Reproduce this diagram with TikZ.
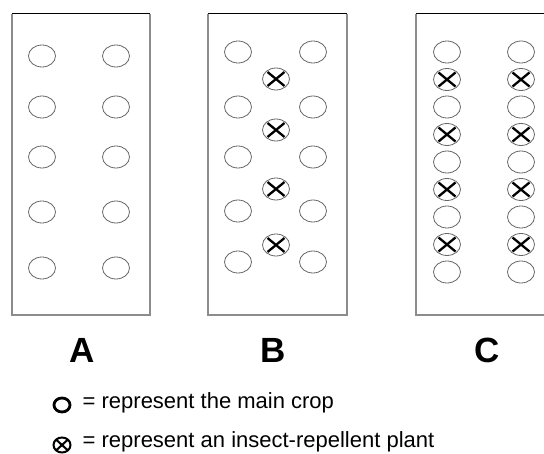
\documentclass[tikz,border=0pt]{standalone}
\usepackage{fontspec}
\setmainfont{Liberation Sans}
\usetikzlibrary{shapes.geometric}

\tikzset{
  crop/.style={ellipse, draw=black!60, line width=0.8pt, minimum width=27pt,
    minimum height=22pt, inner sep=0pt},
  repel/.style={crop, path picture={
    \draw[draw=black, line width=2.3pt]
      ([shift={(-8.5pt,-7pt)}]path picture bounding box.center) --
      ([shift={(8.5pt,7pt)}]path picture bounding box.center)
      ([shift={(-8.5pt,7pt)}]path picture bounding box.center) --
      ([shift={(8.5pt,-7pt)}]path picture bounding box.center);}},
  bedside/.style={draw=black!45, line width=1.2pt},
  bedtop/.style={draw=black, line width=1pt},
  bedlabel/.style={font=\fontsize{35}{40}\selectfont\bfseries, anchor=base, inner sep=0pt},
  keytext/.style={font=\fontsize{22}{26}\selectfont, anchor=base west, inner sep=0pt}
}

\begin{document}
\begin{tikzpicture}[x=1pt,y=-1pt]
    \useasboundingbox (0,0) rectangle (544,454);
    % the three beds
    \draw[bedside] (12,14) -- (12,315) -- (150,315) -- (150,14);
    \draw[bedtop] (12,14) -- (150,14);
    \draw[bedside] (208,14) -- (208,315) -- (347,315) -- (347,14);
    \draw[bedtop] (208,14) -- (347,14);
    \draw[bedside] (544,315) -- (416,315) -- (416,14);
    \draw[bedtop] (416,14) -- (544,14);
    % bed A: main crop only
    \foreach \y [count=\i] in {56,107,157,212,268} {
        \node[crop] (a-l\i) at (42,\y) {};
        \node[crop] (a-r\i) at (116,\y) {};
    }
    % bed B: repellent plants between the rows
    \foreach \y [count=\i] in {52,107,157,211,262} {
        \node[crop] (b-l\i) at (238,\y) {};
        \node[crop] (b-r\i) at (313,\y) {};
    }
    \foreach \y [count=\i] in {79,130,189,245}
        \node[repel] (b-x\i) at (276,\y) {};
    % bed C: alternating within the rows
    \foreach \k in {0,2,...,8} {
        \node[crop] (c-l\k) at (447,{52+27.5*\k}) {};
        \node[crop] (c-r\k) at (521,{52+27.5*\k}) {};
    }
    \foreach \k in {1,3,...,7} {
        \node[repel] (c-l\k) at (447,{52+27.5*\k}) {};
        \node[repel] (c-r\k) at (521,{52+27.5*\k}) {};
    }
    \node[bedlabel] (labA) at (82,363) {A};
    \node[bedlabel] (labB) at (273,363) {B};
    \node[bedlabel] (labC) at (487,363) {C};
    % key
    \node[ellipse, draw, line width=2.8pt, minimum width=16pt, minimum height=14pt,
        inner sep=0pt] (keycrop) at (62,405) {};
    \node[keytext] (keyA) at (82.5,409) {= represent the main crop};
    \node[ellipse, draw, line width=2pt, minimum width=17pt, minimum height=15pt,
        inner sep=0pt, path picture={
        \draw[line width=2pt]
          ([shift={(-6pt,-5.5pt)}]path picture bounding box.center) --
          ([shift={(6pt,5.5pt)}]path picture bounding box.center)
          ([shift={(-6pt,5.5pt)}]path picture bounding box.center) --
          ([shift={(6pt,-5.5pt)}]path picture bounding box.center);}]
        (keyrepel) at (62,445) {};
    \node[keytext] (keyB) at (82.5,448) {= represent an insect-repellent plant};
\end{tikzpicture}
\end{document}
